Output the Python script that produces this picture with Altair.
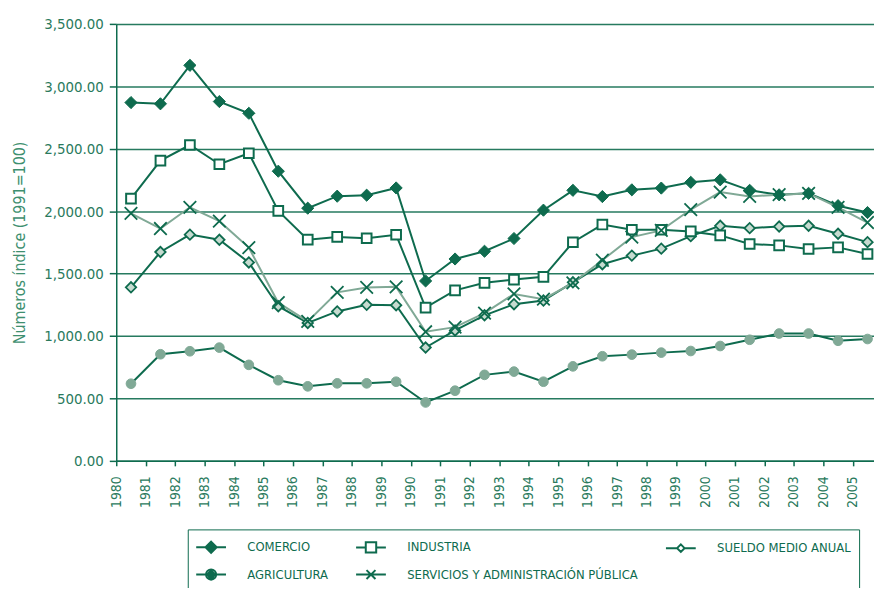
import altair as alt
import pandas as pd

years = list(range(1980, 2006))

comercio = [2870, 2860, 3168, 2878, 2784, 2320, 2024, 2120, 2128, 2186, 1441, 1617, 1679, 1781, 2008,
            2167, 2117, 2171, 2185, 2231, 2251, 2167, 2131, 2143, 2044, 1989]
industria = [2100, 2405, 2530, 2376, 2464, 2002, 1772, 1794, 1783, 1811, 1227, 1366, 1426, 1452, 1474,
             1751, 1893, 1851, 1851, 1838, 1806, 1737, 1726, 1697, 1710, 1657]
sueldo = [1390, 1673, 1812, 1771, 1589, 1239, 1105, 1197, 1250, 1247, 908, 1045, 1166, 1255, 1284,
          1430, 1575, 1644, 1700, 1800, 1883, 1864, 1877, 1883, 1819, 1752]
agricultura = [618, 854, 878, 907, 769, 646, 597, 621, 621, 634, 468, 562, 689, 715, 634,
               757, 838, 851, 867, 880, 920, 970, 1020, 1020, 962, 976]
servicios = [1983, 1861, 2031, 1920, 1708, 1267, 1117, 1350, 1389, 1394, 1034, 1071, 1184, 1337, 1295,
             1426, 1607, 1792, 1846, 2013, 2153, 2118, 2132, 2142, 2031, 1909]

series_names = ["COMERCIO", "INDUSTRIA", "SUELDO MEDIO ANUAL", "AGRICULTURA",
                "SERVICIOS Y ADMINISTRACIÓN PÚBLICA"]
series_values = [comercio, industria, sueldo, agricultura, servicios]

# legend entries, listed column by column (legend fills columns first)
legend_order = ["COMERCIO", "AGRICULTURA", "INDUSTRIA",
                "SERVICIOS Y ADMINISTRACIÓN PÚBLICA", "SUELDO MEDIO ANUAL"]

y_ticks = [0, 500, 1000, 1500, 2000, 2500, 3000, 3500]

DARK = "#0e6b4e"
LIGHT = "#80a996"
PALE = "#c6dbd0"
LABEL = "#2a7a5d"
TITLE = "#3e8f6f"
FONT = "'DejaVu Sans Condensed', 'Liberation Sans Narrow', sans-serif"

rows = []
for name, vals in zip(series_names, series_values):
    for yr, v in zip(years, vals):
        rows.append({"anio": yr, "serie": name, "valor": v})
df = pd.DataFrame(rows)
legend_df = pd.DataFrame({"serie": legend_order})

base = alt.Chart(df).transform_calculate(pos="datum.anio + 0.5")

x_enc = alt.X(
    "pos:Q",
    scale=alt.Scale(domain=[1980, 2005.72], nice=False, zero=False),
    axis=alt.Axis(values=years, format="d", labelAngle=-90, tickSize=5, labelPadding=10,
                  grid=False, labelFontSize=14),
    title=None,
)
y_enc = alt.Y(
    "valor:Q",
    scale=alt.Scale(domain=[0, 3500], nice=False),
    axis=alt.Axis(values=y_ticks, format=",.2f", grid=True, tickSize=7, labelPadding=6,
                  labelFontSize=15, title="Números índice (1991=100)", titleFontSize=16,
                  titleFontWeight="normal", titleColor=TITLE, titlePadding=16, titleFont=FONT),
)

lines = base.mark_line(strokeWidth=2).encode(
    x=x_enc,
    y=y_enc,
    color=alt.Color("serie:N",
                    scale=alt.Scale(domain=series_names, range=[DARK, DARK, DARK, DARK, LIGHT]),
                    legend=None),
)

point_styles = {
    "AGRICULTURA": dict(shape="circle", size=95, fill=LIGHT, stroke=LIGHT, strokeWidth=1),
    "SUELDO MEDIO ANUAL": dict(shape="diamond", size=110, fill=PALE, stroke=DARK, strokeWidth=1.8),
    "INDUSTRIA": dict(shape="square", size=95, fill="white", stroke=DARK, strokeWidth=2),
    "COMERCIO": dict(shape="diamond", size=150, fill=DARK, stroke=DARK, strokeWidth=1),
    "SERVICIOS Y ADMINISTRACIÓN PÚBLICA": dict(shape="M-1,-1L1,1M-1,1L1,-1", size=160,
                                                fill="transparent", stroke=DARK, strokeWidth=1.8),
}

point_layers = []
for name, st in point_styles.items():
    point_layers.append(
        base.transform_filter(alt.datum.serie == name)
        .mark_point(opacity=1, filled=False, **st)
        .encode(x=x_enc, y=y_enc)
    )

# legend glyphs (line + marker), in legend_order
legend_shapes = [
    "M-2,0L2,0M0,-0.75L0.75,0L0,0.75L-0.75,0ZM0,-0.5L0.5,0L0,0.5L-0.5,0ZM0,-0.25L0.25,0L0,0.25L-0.25,0Z",
    "M-2,0L2,0M-0.68,0A0.68,0.68 0 1,0 0.68,0A0.68,0.68 0 1,0 -0.68,0Z"
    "M-0.42,0A0.42,0.42 0 1,0 0.42,0A0.42,0.42 0 1,0 -0.42,0Z"
    "M-0.16,0A0.16,0.16 0 1,0 0.16,0A0.16,0.16 0 1,0 -0.16,0Z",
    "M-2,0L-0.7,0M0.7,0L2,0M-0.7,-0.7L0.7,-0.7L0.7,0.7L-0.7,0.7Z",
    "M-2,0L2,0M-0.6,-0.6L0.6,0.6M-0.6,0.6L0.6,-0.6",
    "M-2,0L-0.5,0M0.5,0L2,0M0,-0.5L0.5,0L0,0.5L-0.5,0Z",
]

leg = alt.Legend(
    orient="none", legendX=72, legendY=509, columns=3,
    titleColor="white", titleFontSize=1, titlePadding=0,
    padding=8, strokeColor=DARK, rowPadding=8, columnPadding=23,
    labelOffset=28, symbolOffset=7,
    symbolSize=225, symbolStrokeWidth=2, symbolFillColor="transparent", symbolStrokeColor=DARK,
    labelFont=FONT, labelFontSize=13, labelColor=DARK, labelLimit=500,
)

legend_layer = alt.Chart(legend_df).mark_point(
    filled=False, opacity=1, strokeWidth=2, clip=True
).encode(
    x=alt.value(-200),
    y=alt.value(-200),
    shape=alt.Shape("serie:N", scale=alt.Scale(domain=legend_order, range=legend_shapes), legend=leg),
)

chart = alt.layer(lines, *point_layers, legend_layer).properties(
    width=763,
    height=440,
    autosize=alt.AutoSizeParams(type="none"),
    padding={"left": 109, "top": 14, "right": 0, "bottom": 126},
).configure_view(stroke=None).configure_axis(
    domainColor=DARK, domainWidth=1.5, tickColor=DARK, tickWidth=1.5,
    gridColor=DARK, gridWidth=1.5, gridOpacity=0.9,
    labelFont=FONT, labelColor=LABEL,
)

chart.save("out.html", embed_options={"renderer": "svg", "actions": False})
